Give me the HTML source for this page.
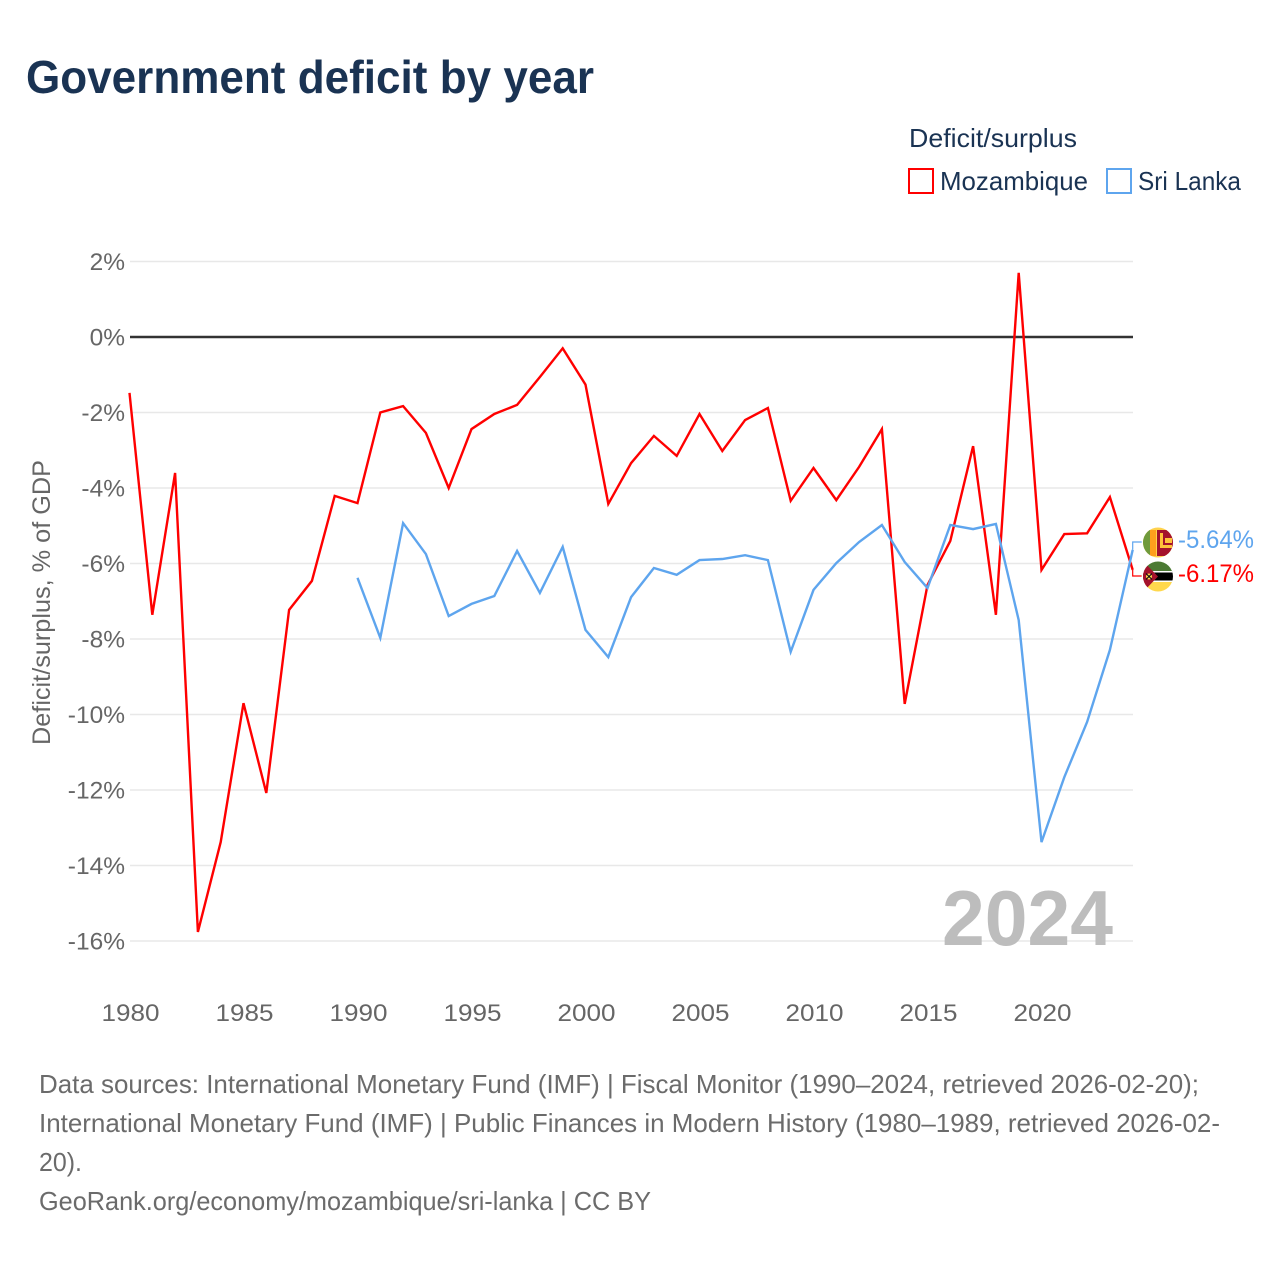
<!DOCTYPE html>
<html lang="en">
<head>
<meta charset="utf-8">
<title>Government deficit by year</title>
<style>
html,body{margin:0;padding:0;background:#fff;}
svg{display:block;font-family:"Liberation Sans",sans-serif;}
</style>
</head>
<body>
<svg id="chart" xmlns="http://www.w3.org/2000/svg" width="1280" height="1280" viewBox="0 0 1280 1280">
  <defs>
    <clipPath id="clip-lk"><circle cx="1158" cy="542.500" r="15"/></clipPath>
    <clipPath id="clip-mz"><circle cx="1158" cy="576.500" r="15"/></clipPath>
  </defs>
  <rect width="1280" height="1280" fill="#fff"/>
  <text x="26" y="93" font-size="46" font-weight="700" fill="#1a3353" textLength="568" lengthAdjust="spacingAndGlyphs">Government deficit by year</text>

  <g>
    <text x="909" y="147" font-size="26" fill="#1a3353" textLength="168" lengthAdjust="spacingAndGlyphs">Deficit/surplus</text>
    <g>
      <rect x="909" y="169" width="24" height="24" fill="none" stroke="#ff0000" stroke-width="2"/>
      <text x="940" y="190" font-size="26" fill="#1a3353" textLength="148" lengthAdjust="spacingAndGlyphs">Mozambique</text>
    </g>
    <g>
      <rect x="1107" y="169" width="24" height="24" fill="none" stroke="#5ea5ee" stroke-width="2"/>
      <text x="1138" y="190" font-size="26" fill="#1a3353" textLength="103" lengthAdjust="spacingAndGlyphs">Sri Lanka</text>
    </g>
  </g>

  <g id="grid"></g>
  <g id="y-axis"></g>
  <g id="x-axis"></g>
  <text transform="translate(50,745) rotate(-90)" font-size="25" fill="#666" textLength="285" lengthAdjust="spacingAndGlyphs">Deficit/surplus, % of GDP</text>
  <text x="942" y="945" font-size="78" font-weight="700" fill="#bdbdbd" textLength="171" lengthAdjust="spacingAndGlyphs">2024</text>
  <g id="series"></g>

  <g clip-path="url(#clip-lk)">
    <rect x="1143" y="527" width="30" height="31" fill="#ffd24d"/>
    <rect x="1143" y="530" width="7" height="26" fill="#6f9a3c"/>
    <rect x="1150" y="530" width="6" height="26" fill="#ff9f1c"/>
    <rect x="1157" y="530" width="16" height="26" fill="#a4122c"/>
    <rect x="1160" y="533" width="3" height="15" fill="#ffc23a"/>
    <rect x="1160" y="545" width="12" height="3" fill="#ffc23a"/>
    <rect x="1165" y="538" width="7" height="5" fill="#ffc23a"/>
  </g>
  <g clip-path="url(#clip-mz)">
    <rect x="1143" y="561" width="30" height="11" fill="#4c7a34"/>
    <rect x="1143" y="571" width="30" height="1.500" fill="#fff"/>
    <rect x="1143" y="572.500" width="30" height="8" fill="#000"/>
    <rect x="1143" y="580.500" width="30" height="1.500" fill="#fff"/>
    <rect x="1143" y="582" width="30" height="10" fill="#ffd84d"/>
    <polygon points="1143,561 1158,576.500 1143,592" fill="#a4122c"/>
    <circle cx="1149" cy="576.500" r="3" fill="#ffd84d"/>
    <path d="M1146 573.500 L1152 579.500 M1152 573.500 L1146 579.500" stroke="#111" stroke-width="1.200"/>
  </g>
  <text x="1178" y="548" font-size="25" fill="#5ea5ee" textLength="76" lengthAdjust="spacingAndGlyphs">-5.64%</text>
  <text x="1178" y="582" font-size="25" fill="#ff0000" textLength="76" lengthAdjust="spacingAndGlyphs">-6.17%</text>

  <g font-size="26" fill="#6b6b6b">
    <text x="39" y="1093" textLength="1160" lengthAdjust="spacingAndGlyphs">Data sources: International Monetary Fund (IMF) | Fiscal Monitor (1990–2024, retrieved 2026-02-20);</text>
    <text x="39" y="1132" textLength="1181" lengthAdjust="spacingAndGlyphs">International Monetary Fund (IMF) | Public Finances in Modern History (1980–1989, retrieved 2026-02-</text>
    <text x="39" y="1171" textLength="43" lengthAdjust="spacingAndGlyphs">20).</text>
    <text x="39" y="1210" textLength="612" lengthAdjust="spacingAndGlyphs">GeoRank.org/economy/mozambique/sri-lanka | CC BY</text>
  </g>
</svg>
<script>
const years = [1980,1981,1982,1983,1984,1985,1986,1987,1988,1989,1990,1991,1992,1993,1994,1995,1996,1997,1998,1999,2000,2001,2002,2003,2004,2005,2006,2007,2008,2009,2010,2011,2012,2013,2014,2015,2016,2017,2018,2019,2020,2021,2022,2023,2024];
const mozambique = [-1.48,-7.36,-3.6,-15.76,-13.38,-9.7,-12.08,-7.23,-6.46,-4.21,-4.4,-2.0,-1.83,-2.54,-4.0,-2.44,-2.04,-1.8,-1.06,-0.3,-1.26,-4.42,-3.34,-2.62,-3.15,-2.04,-3.02,-2.2,-1.88,-4.34,-3.47,-4.32,-3.44,-2.44,-9.72,-6.57,-5.4,-2.89,-7.36,1.7,-6.17,-5.22,-5.2,-4.24,-6.17];
const sriLanka = [null,null,null,null,null,null,null,null,null,null,-6.38,-7.97,-4.93,-5.75,-7.39,-7.07,-6.86,-5.67,-6.78,-5.56,-7.76,-8.48,-6.89,-6.12,-6.3,-5.91,-5.88,-5.78,-5.91,-8.34,-6.7,-5.99,-5.43,-4.98,-5.96,-6.65,-4.98,-5.09,-4.95,-7.5,-13.38,-11.66,-10.2,-8.29,-5.64];
const yTicks = [2,0,-2,-4,-6,-8,-10,-12,-14,-16];
const xTicks = [1980,1985,1990,1995,2000,2005,2010,2015,2020];

const NS = 'http://www.w3.org/2000/svg';
function xScale(year){ return 129.5 + (year - 1980) * 22.8; }
function yScale(v){ return 337 - v * 37.75; }
function make(tag, attrs, parent, text){
  const el = document.createElementNS(NS, tag);
  for (const k in attrs) el.setAttribute(k, attrs[k]);
  if (text !== undefined) el.textContent = text;
  parent.appendChild(el);
  return el;
}
const grid = document.getElementById('grid');
const yAxis = document.getElementById('y-axis');
const xAxis = document.getElementById('x-axis');
const seriesGroup = document.getElementById('series');

yTicks.forEach(function(t){
  const isZero = t === 0;
  const line = make('line', {x1:130, x2:1133, y1:yScale(t), y2:yScale(t), stroke:isZero ? '#333333' : '#e8e8e8', 'stroke-width':isZero ? 2.5 : 1.5}, isZero ? yAxis : grid);
  
  
  const label = make('text', {x:125, y:yScale(t) + 8.5, 'text-anchor':'end', 'font-size':24.5, fill:'#666'}, yAxis, t + '%');
  
  
});

xTicks.forEach(function(t){
  const label = make('text', {x:xScale(t) + 1, y:1021, 'text-anchor':'middle', 'font-size':24.5, fill:'#666', textLength:58, lengthAdjust:'spacingAndGlyphs'}, xAxis, String(t));
  
  
});

function linePath(values){
  let d = '';
  let started = false;
  values.forEach(function(v, i){
    if (v === null) return;
    d += (started ? ' L' : 'M') + xScale(years[i]).toFixed(1) + ' ' + yScale(v).toFixed(1);
    started = true;
  });
  return d;
}

function connectorPath(values, labelY){
  const last = values[values.length - 1];
  const x = xScale(years[years.length - 1]);
  return 'M' + x + ' ' + yScale(last).toFixed(1) + ' L' + x + ' ' + labelY + ' L' + (x + 9) + ' ' + labelY;
}

const mozLine = make('path', {d:linePath(mozambique), fill:'none', stroke:'#ff0000', 'stroke-width':2.4, 'stroke-linejoin':'miter'}, seriesGroup);


const lkLine = make('path', {d:linePath(sriLanka), fill:'none', stroke:'#5ea5ee', 'stroke-width':2.4, 'stroke-linejoin':'miter'}, seriesGroup);


const mozConn = make('path', {d:connectorPath(mozambique, 576), fill:'none', stroke:'#ff0000', 'stroke-width':1.2}, seriesGroup);


const lkConn = make('path', {d:connectorPath(sriLanka, 542), fill:'none', stroke:'#5ea5ee', 'stroke-width':1.2}, seriesGroup);


</script>
</body>
</html>
